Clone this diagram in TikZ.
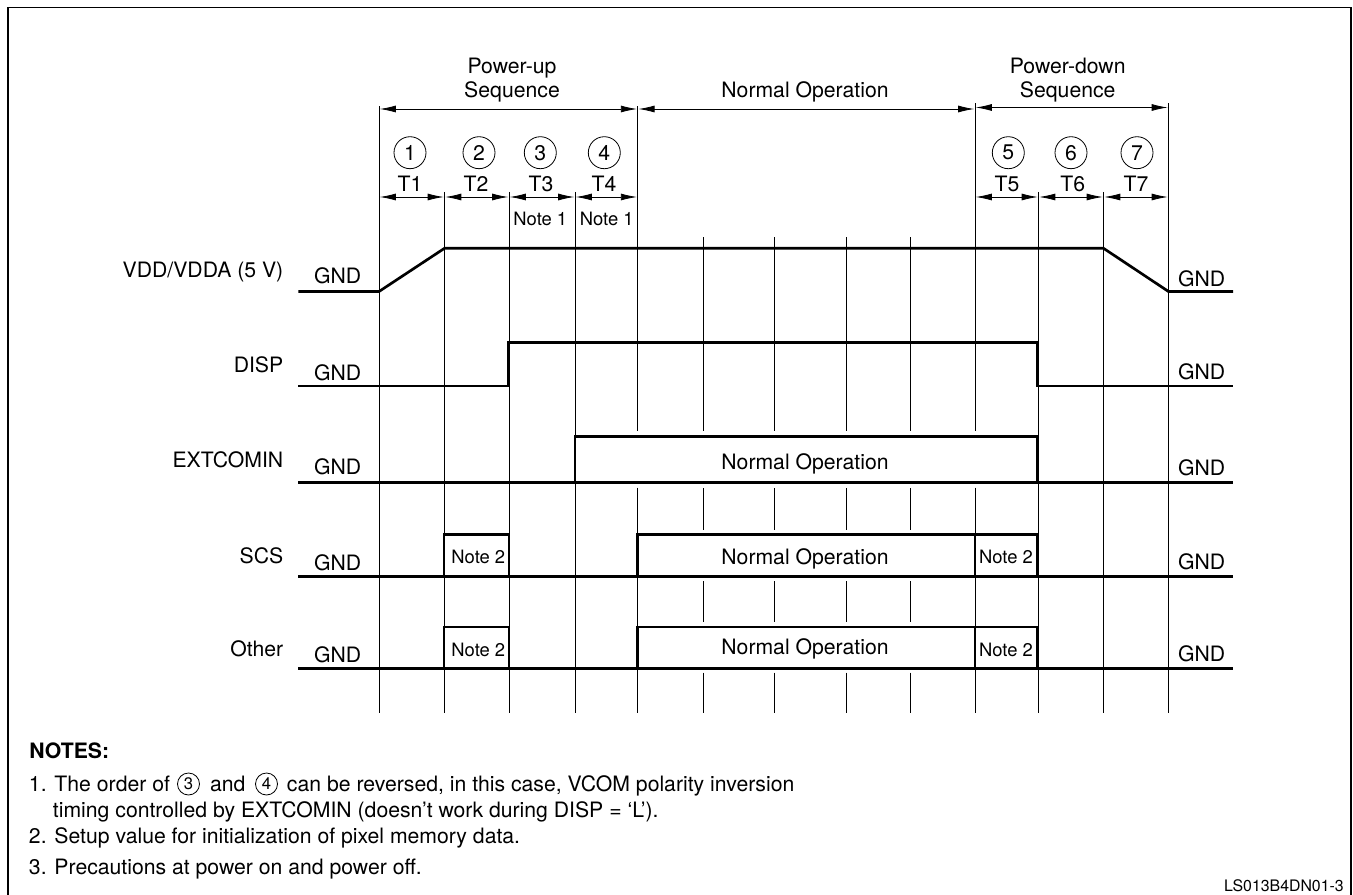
\documentclass[tikz,border=0pt]{standalone}
\usepackage{fontspec}
\setmainfont{TeX Gyre Heros}
\usetikzlibrary{arrows.meta}

\tikzset{
  lbl/.style={font=\fontsize{15.9}{18}\selectfont, inner sep=0pt, anchor=base},
  lblsmall/.style={font=\fontsize{13.8}{16}\selectfont, inner sep=0pt, anchor=base},
  notetext/.style={font=\fontsize{15.9}{18}\selectfont, inner sep=0pt, anchor=base west},
  numcircle/.style={draw, circle, line width=0.6pt, minimum size=24pt, inner sep=0pt, font=\fontsize{15.9}{18}\selectfont},
  numsmall/.style={draw, circle, line width=0.6pt, minimum size=16.5pt, inner sep=0pt, font=\fontsize{12.5}{14}\selectfont},
  thinline/.style={line width=0.7pt},
  signal/.style={line width=2pt, line join=miter},
  timearrow/.style={line width=0.6pt, {Latex[length=12pt,width=5.2pt]}-{Latex[length=12pt,width=5.2pt]}, shorten <=0.6pt, shorten >=0.6pt}
}

\begin{document}
\begin{tikzpicture}[x=0.75pt,y=-0.75pt]
  \useasboundingbox (0,0) rectangle (1353,895);

  \draw[line width=0.8pt] (8,895)--(8,7.5)--(1351,7.5)--(1351,895);

  % grid lines
  \foreach \xpos/\ytop in {379/106.5,444.5/192,509/192,575/192,1038.5/192,1103.5/192,1168.5/103.5}{
    \draw[thinline] (\xpos,\ytop)--(\xpos,712.5);
  }
  \foreach \xpos/\ytop in {637.7/106.5,975/103.5}{
    \draw[thinline] (\xpos,\ytop)--(\xpos,430.7);
    \draw[thinline] (\xpos,487.5)--(\xpos,712.5);
  }
  \foreach \xpos in {703.5,774.5,846,910}{
    \draw[thinline] (\xpos,237)--(\xpos,430.7);
    \draw[thinline] (\xpos,488)--(\xpos,529.5);
    \draw[thinline] (\xpos,581)--(\xpos,621.5);
    \draw[thinline] (\xpos,672.5)--(\xpos,712.5);
  }

  % arrows
  \foreach \i/\xpos in {0/379,1/444.5,2/509,3/575,4/637.7,5/975,6/1038.5,7/1103.5,8/1168.5}{
    \coordinate (t\i) at (\xpos,197);
  }
  \coordinate (up0) at (379,109);
  \coordinate (up1) at (637.7,109);
  \coordinate (up2) at (975,109);
  \coordinate (dn0) at (975,107.5);
  \coordinate (dn1) at (1168.5,107.5);

  \draw[timearrow] (up0)--(up1);
  \draw[timearrow] (up1)--(up2);
  \draw[timearrow] (dn0)--(dn1);
  \foreach \a/\b in {0/1,1/2,2/3,3/4,5/6,6/7,7/8}{
    \draw[timearrow] (t\a)--(t\b);
  }

  \node[lbl] (pup) at (512,74) {Power-up};
  \node[lbl] (pupseq) at (512,97.7) {Sequence};
  \node[lbl] (normal) at (805,98) {Normal Operation};
  \node[lbl] (pdn) at (1067.7,74) {Power-down};
  \node[lbl] (pdnseq) at (1067.7,97.7) {Sequence};

  \foreach \i/\xpos/\xt in {1/410/410,2/479/476,3/540.3/541,4/604.3/604,5/1008.3/1007,6/1071/1072.7,7/1137/1136}{
    \node[numcircle] (c\i) at (\xpos,152.7) {\i};
    \node[lbl] (T\i) at (\xt,192) {T\i};
  }
  \node[lblsmall] (noteA) at (540.3,225) {Note 1};
  \node[lblsmall] (noteB) at (606.7,225) {Note 1};

  % waveforms
  \draw[signal] (298.3,291.5)--(379,291.5)--(444.5,248.3)--(1103.5,248.3)--(1168.5,291.5)--(1233,291.5);
  \draw[signal] (298.3,386)--(508.5,386)--(508.5,342.3)--(1037.5,342.3)--(1037.5,386)--(1233,386);
  \draw[signal] (298.3,482.3)--(1233,482.3);
  \draw[signal] (575,482.3)--(575,436.7)--(1037.5,436.7)--(1037.5,482.3);

  \foreach \ylow/\yhigh in {576.7/534.3,668.7/627}{
    \draw[signal] (298.3,\ylow)--(1233,\ylow);
    \draw[signal] (444,\ylow)--(444,\yhigh)--(509,\yhigh)--(509,\ylow);
    \draw[signal] (637.3,\ylow)--(637.3,\yhigh)--(1037.5,\yhigh)--(1037.5,\ylow);
    \draw[signal] (975,\ylow)--(975,\yhigh);
  }

  \node[lbl] (opA) at (805,469) {Normal Operation};
  \node[lbl] (opB) at (805,564) {Normal Operation};
  \node[lbl] (opC) at (805,654) {Normal Operation};
  \node[lblsmall] (noteC) at (478.3,563.3) {Note 2};
  \node[lblsmall] (noteD) at (478.3,656) {Note 2};
  \node[lblsmall] (noteE) at (1006,563.3) {Note 2};
  \node[lblsmall] (noteF) at (1006,656) {Note 2};

  % signal names
  \node[lbl,anchor=base east] (vdd) at (283.5,277.3) {VDD/VDDA (5 V)};
  \node[lbl,anchor=base east] (disp) at (283.5,372.7) {DISP};
  \node[lbl,anchor=base east] (extcomin) at (283.5,467) {EXTCOMIN};
  \node[lbl,anchor=base east] (scs) at (283.5,563) {SCS};
  \node[lbl,anchor=base east] (other) at (283.5,656) {Other};

  \foreach \i/\ya/\yb in {1/283.3/286,2/380.5/379.5,3/474/475,4/570/569,5/662/661}{
    \node[lbl] (gndL\i) at (337.7,\ya) {GND};
    \node[lbl] (gndR\i) at (1201.7,\yb) {GND};
  }

  % notes
  \node[notetext,font=\fontsize{15.9}{18}\selectfont\bfseries] (notes) at (29,758.3) {NOTES:};
  \node[notetext] (oneA) at (28.7,791.7) {1. The order of};
  \node[numsmall] (small3) at (188.5,784) {3};
  \node[notetext] (oneB) at (209.8,791.7) {and};
  \node[numsmall] (small4) at (266.5,784) {4};
  \node[notetext] (oneC) at (286.7,791.7) {can be reversed, in this case, VCOM polarity inversion};
  \node[notetext] (oneD) at (52.7,817.3) {timing controlled by EXTCOMIN (doesn’t work during DISP = ‘L’).};
  \node[notetext] (two) at (28.7,843.3) {2. Setup value for initialization of pixel memory data.};
  \node[notetext] (three) at (28.7,874.3) {3. Precautions at power on and power off.};

  \node[inner sep=0pt,anchor=base east,font=\fontsize{11.9}{14}\selectfont] (code) at (1344,891.7) {LS013B4DN01-3};
\end{tikzpicture}
\end{document}
